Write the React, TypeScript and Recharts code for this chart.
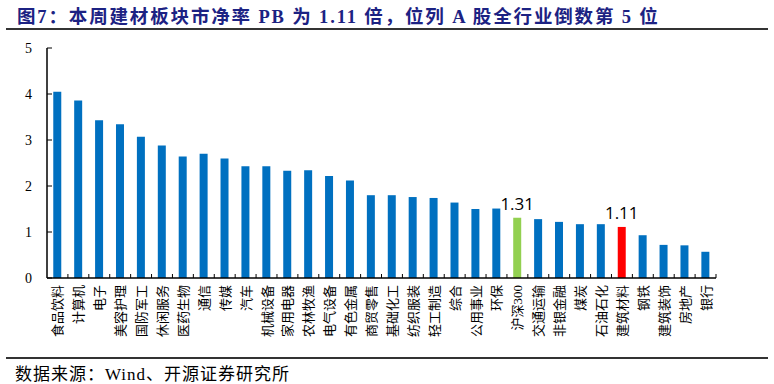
import { BarChart, Bar, XAxis, YAxis, Cell, LabelList } from "recharts";

const industries = [
  "食品饮料", "计算机", "电子", "美容护理", "国防军工", "休闲服务", "医药生物", "通信",
  "传媒", "汽车", "机械设备", "家用电器", "农林牧渔", "电气设备", "有色金属", "商贸零售",
  "基础化工", "纺织服装", "轻工制造", "综合", "公用事业", "环保", "沪深300", "交通运输",
  "非银金融", "煤炭", "石油石化", "建筑材料", "钢铁", "建筑装饰", "房地产", "银行",
];

const pbValues = [
  4.05, 3.86, 3.43, 3.34, 3.07, 2.88, 2.64, 2.70,
  2.60, 2.43, 2.43, 2.33, 2.34, 2.22, 2.12, 1.80,
  1.80, 1.76, 1.74, 1.64, 1.50, 1.51, 1.31, 1.28,
  1.22, 1.17, 1.17, 1.11, 0.93, 0.72, 0.71, 0.57,
];

const yTicks = [0, 1, 2, 3, 4, 5];

const benchmark = "沪深300";
const highlight = "建筑材料";

const data = industries.map((name, i) => ({
  name,
  pb: pbValues[i],
  label: name === benchmark || name === highlight ? pbValues[i].toFixed(2) : undefined,
}));

const PLOT_LEFT = 47;
const PLOT_RIGHT = 716;
const STEP = (PLOT_RIGHT - PLOT_LEFT) / industries.length;

const serif = '"Liberation Serif", "Noto Sans CJK SC", serif';

function XTick(props: any) {
  const { x, y, payload } = props;
  return (
    <g>
      <line x1={x + STEP / 2} x2={x + STEP / 2} y1={y - 6} y2={y - 10} stroke="#000" />
      <text
        x={0}
        y={0}
        transform={`translate(${x + 5},${y + 1}) rotate(-90)`}
        textAnchor="end"
        fontSize={13}
        fontFamily={serif}
        fill="#000"
      >
        {payload.value}
      </text>
    </g>
  );
}

function YTick(props: any) {
  const { x, y, payload } = props;
  return (
    <g>
      <line x1={x + 15} x2={x + 20} y1={y} y2={y} stroke="#000" />
      <text x={x} y={y + 5} textAnchor="end" fontSize={14} fontFamily={serif} fill="#000">
        {payload.value}
      </text>
    </g>
  );
}

export default function App() {
  return (
    <div
      style={{
        position: "absolute",
        left: 0,
        top: 0,
        width: 774,
        height: 384,
        background: "#fff",
        overflow: "hidden",
      }}
    >
      <div
        style={{
          position: "absolute",
          left: 17,
          top: 2,
          fontSize: 18.5,
          fontWeight: "bold",
          color: "#1c2283",
          fontFamily: serif,
          letterSpacing: 1.85,
          whiteSpace: "nowrap",
        }}
      >
        图7：本周建材板块市净率 PB 为 1.11 倍，位列 A 股全行业倒数第 5 位
      </div>
      <div style={{ position: "absolute", left: 6, top: 28, width: 762, height: 1.5, background: "#333" }} />

      <div style={{ position: "absolute", left: 0, top: 0 }}>
        <BarChart
          width={774}
          height={384}
          data={data}
          margin={{ top: 48, left: 17, right: 774 - PLOT_RIGHT, bottom: 46 }}
          barCategoryGap="30%"
        >
          <XAxis
            dataKey="name"
            interval={0}
            height={60}
            tickSize={0}
            tickMargin={6}
            tick={<XTick />}
            axisLine={{ stroke: "#000", strokeWidth: 1.5 }}
          />
          <YAxis
            width={30}
            domain={[0, 5]}
            ticks={yTicks}
            tickSize={0}
            tickMargin={15}
            tick={<YTick />}
            axisLine={{ stroke: "#000", strokeWidth: 1.5 }}
          />
          <Bar dataKey="pb" isAnimationActive={false}>
            {data.map((d) => (
              <Cell
                key={d.name}
                fill={d.name === benchmark ? "#92D050" : d.name === highlight ? "#FF0000" : "#0070C0"}
              />
            ))}
            <LabelList
              dataKey="label"
              position="top"
              offset={8}
              fontSize={17}
              fill="#000"
              fontFamily='"Open Sans", sans-serif'
            />
          </Bar>
        </BarChart>
      </div>

      <div style={{ position: "absolute", left: 6, top: 357, width: 762, height: 1.5, background: "#333" }} />
      <div
        style={{
          position: "absolute",
          left: 15,
          top: 360,
          fontSize: 17,
          color: "#000",
          fontFamily: serif,
          letterSpacing: 1,
          whiteSpace: "nowrap",
        }}
      >
        数据来源：Wind、开源证券研究所
      </div>
    </div>
  );
}
